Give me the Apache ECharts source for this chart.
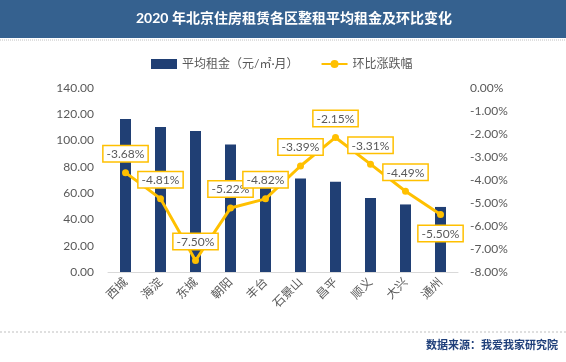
<!DOCTYPE html>
<html><head><meta charset="utf-8">
<script src="https://cdn.jsdelivr.net/npm/echarts@6/dist/echarts.min.js"></script>
<style>html,body{margin:0;padding:0;background:#fff}#c{width:566px;height:362px}</style>
</head><body><div id="c"></div>
<script>
const categories = ['西城','海淀','东城','朝阳','丰台','石景山','昌平','顺义','大兴','通州'];
const avgRent = [116.4, 110.3, 107.3, 97.1, 76.9, 71.2, 68.7, 56.3, 51.4, 49.5];
const momChange = [-3.68, -4.81, -7.50, -5.22, -4.82, -3.39, -2.15, -3.31, -4.49, -5.50];
const seriesNames = ['平均租金（元/㎡·月）', '环比涨跌幅'];
const titleText = '2020 年北京住房租赁各区整租平均租金及环比变化';
const sourceText = '数据来源：我爱我家研究院';

const font = 'Lato, "Noto Sans CJK SC", sans-serif';
const chart = echarts.init(document.getElementById('c'));
chart.setOption({
  animation: false,
  textStyle: { fontFamily: font },
  graphic: [
    { type: 'rect', shape: { x: 0, y: 0, width: 566, height: 38 }, style: { fill: '#35618f' }, z: 0 },
    { type: 'line', shape: { x1: 0, y1: 40, x2: 566, y2: 40 }, style: { stroke: '#bfbfbf', lineWidth: 1, lineDash: [1, 1] } },
    { type: 'line', shape: { x1: 0, y1: 332, x2: 566, y2: 332 }, style: { stroke: '#bfbfbf', lineWidth: 1, lineDash: [2, 2] } },
    { type: 'text', left: 283 - 147, top: 11, style: { text: titleText, fill: '#ffffff', font: 'bold 14px ' + font } },
    { type: 'text', right: 8, top: 339, style: { text: sourceText, fill: '#1f3f7a', font: 'bold 11px "Noto Sans CJK SC", sans-serif' } }
  ],
  legend: {
    top: 53, left: 146,
    itemGap: 22,
    textStyle: { color: '#595959', fontSize: 12, fontFamily: font },
    data: [
      { name: seriesNames[0], icon: 'rect', itemWidth: 22, itemHeight: 6 },
      { name: seriesNames[1] }
    ],
    itemWidth: 26, itemHeight: 10
  },
  grid: { left: 108, right: 108, top: 88, bottom: 90 },
  xAxis: {
    type: 'category', data: categories,
    axisLine: { lineStyle: { color: '#d9d9d9' } },
    axisTick: { show: false },
    axisLabel: { rotate: 45, color: '#595959', fontSize: 12, margin: 8, fontFamily: font }
  },
  yAxis: [
    { type: 'value', min: 0, max: 140, interval: 20,
      splitLine: { show: false }, axisLine: { show: false }, axisTick: { show: false },
      axisLabel: { color: '#595959', fontSize: 12, margin: 14, fontFamily: font, formatter: v => v.toFixed(2) } },
    { type: 'value', min: -8, max: 0, interval: 1,
      splitLine: { show: false }, axisLine: { show: false }, axisTick: { show: false },
      axisLabel: { color: '#595959', fontSize: 12, margin: 12, fontFamily: font, formatter: v => v.toFixed(2) + '%' } }
  ],
  series: [
    { name: seriesNames[0], type: 'bar', data: avgRent, barWidth: 11, itemStyle: { color: '#203f74' } },
    { name: seriesNames[1], type: 'line', yAxisIndex: 1, data: momChange,
      symbol: 'circle', symbolSize: 7,
      lineStyle: { color: '#ffc000', width: 3 }, itemStyle: { color: '#ffc000' },
      label: {
        show: true, position: 'top', distance: 8,
        formatter: p => p.value.toFixed(2) + '%',
        color: '#595959', fontSize: 12, fontFamily: font,
        backgroundColor: '#ffffff', borderColor: '#ffc000', borderWidth: 1.5,
        padding: [2, 3, 1, 3]
      },
      labelLayout: null,
      data: momChange.map((v, i) => i === momChange.length - 1 ? { value: v, label: { position: 'bottom' } } : v)
    }
  ]
});
</script></body></html>
